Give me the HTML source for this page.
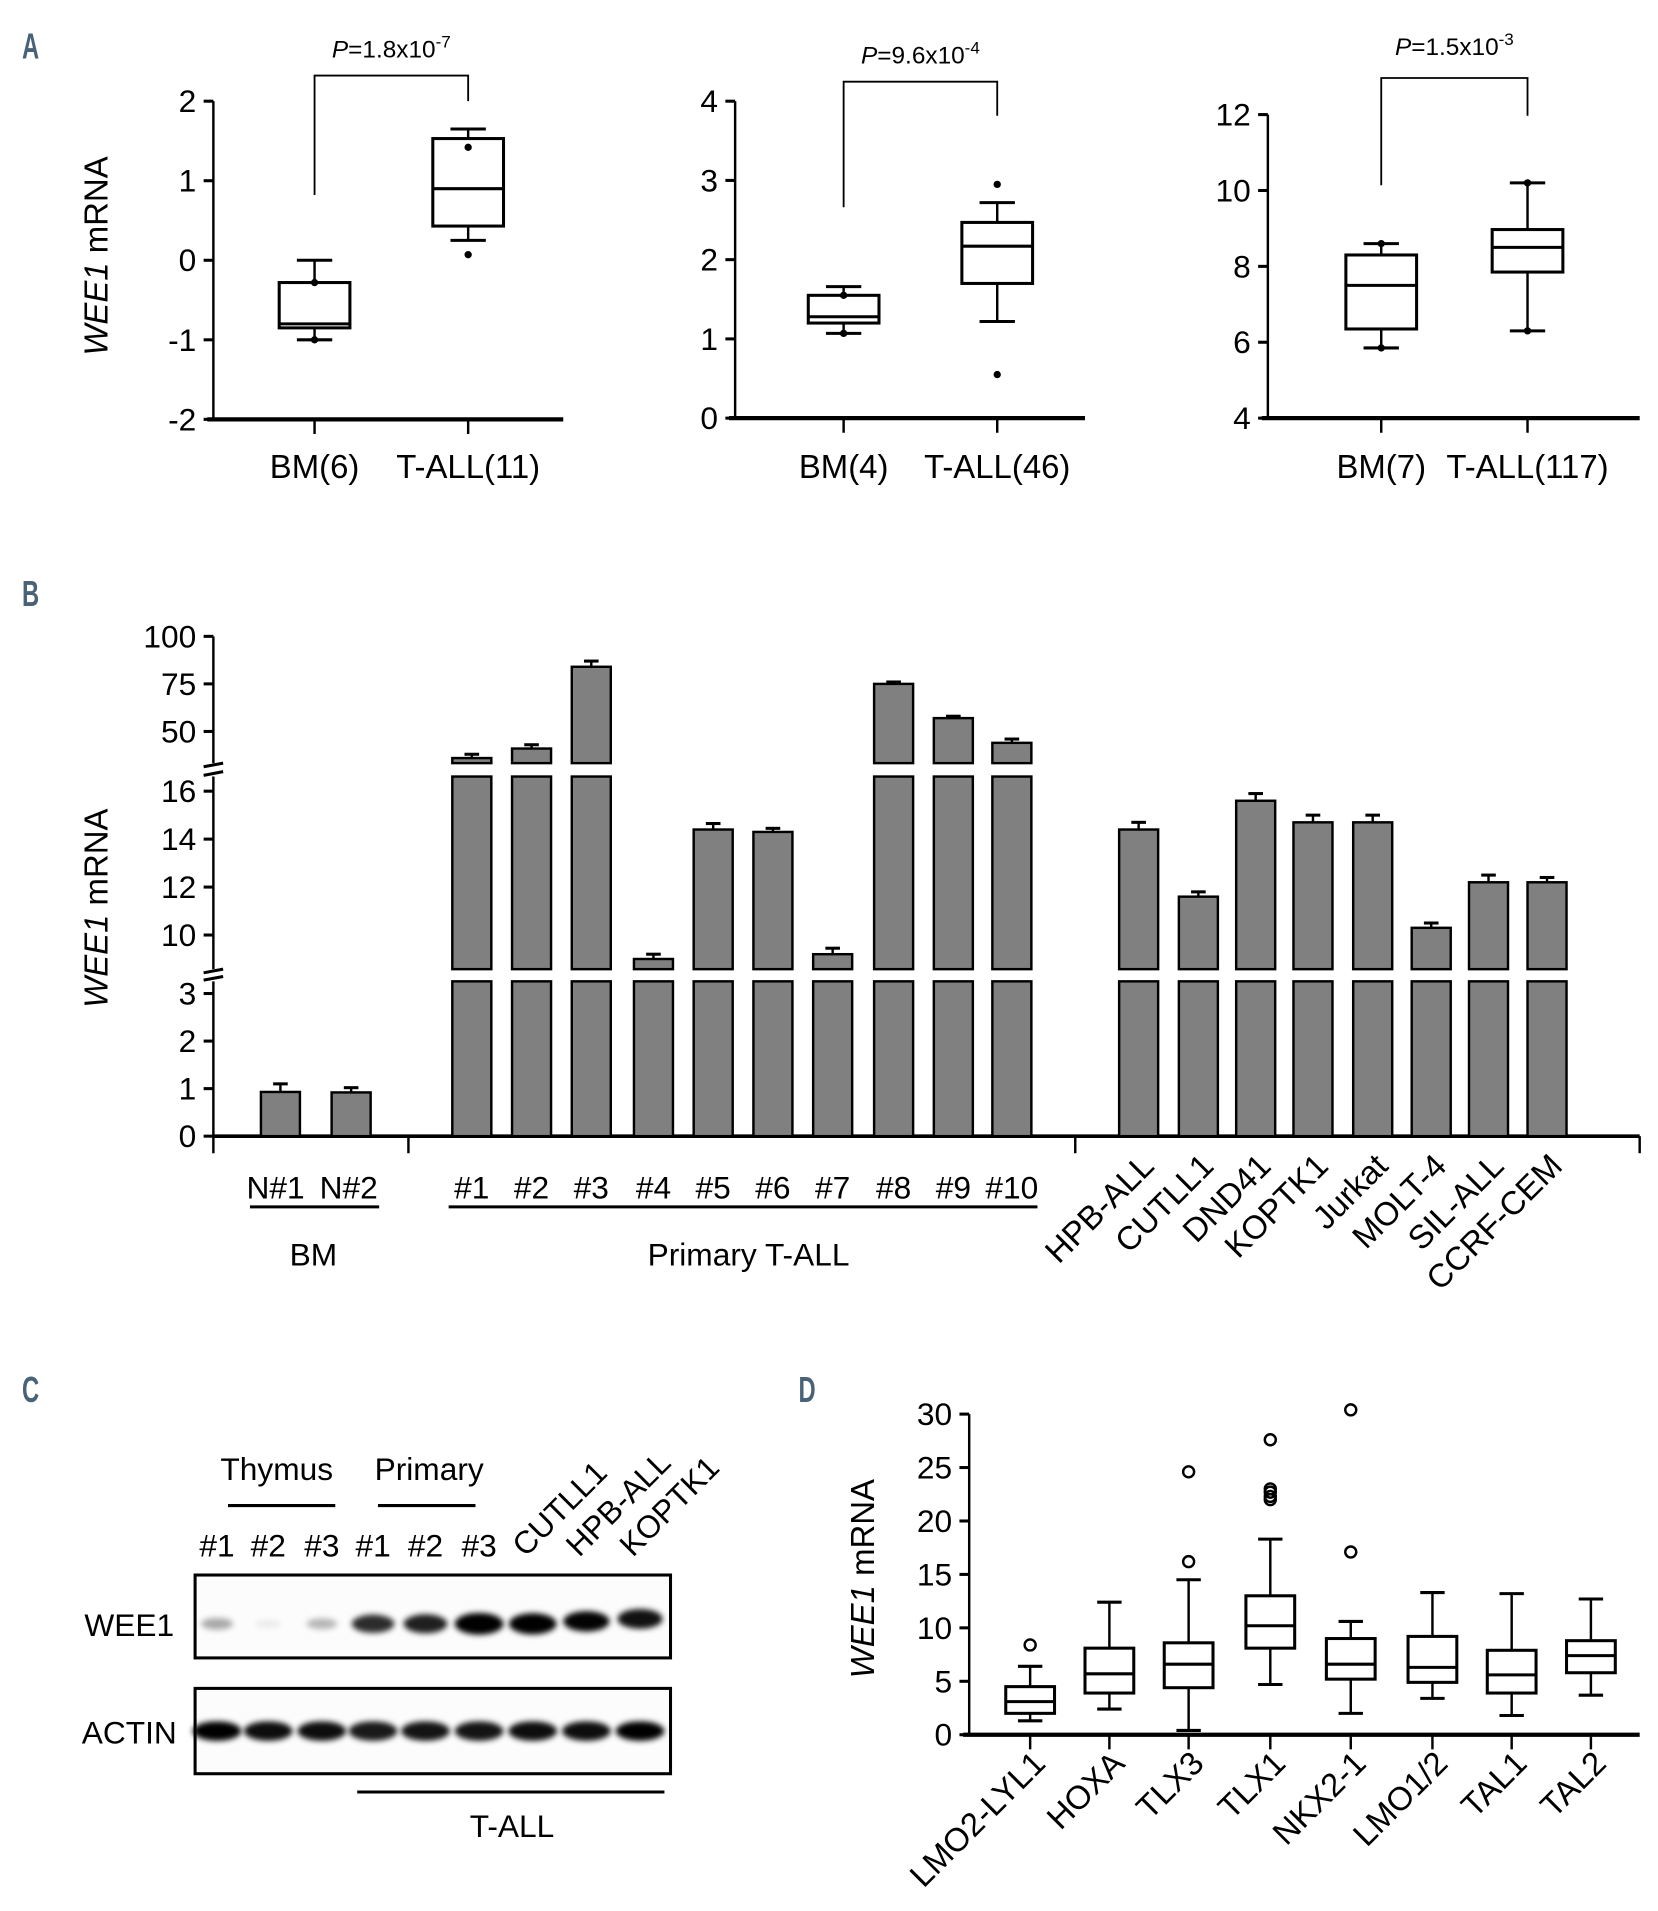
<!DOCTYPE html>
<html><head><meta charset="utf-8"><style>
html,body{margin:0;padding:0;background:#fff;}
svg{display:block;font-family:"Liberation Sans",Arial,sans-serif;}
</style></head><body>
<svg id="fig" width="1658" height="1911" viewBox="0 0 1360 1567.6" xmlns="http://www.w3.org/2000/svg">
<defs><filter id="blur" x="-50%" y="-50%" width="200%" height="200%"><feGaussianBlur stdDeviation="2.5"/></filter></defs>
<g fill="#4a6278" font-weight="bold" font-size="30">
<text x="18" y="48" transform="translate(18 0) scale(0.65,1) translate(-18 0)">A</text>
<text x="18" y="497" transform="translate(18 0) scale(0.65,1) translate(-18 0)">B</text>
<text x="18" y="1150" transform="translate(18 0) scale(0.65,1) translate(-18 0)">C</text>
<text x="655" y="1150" transform="translate(655 0) scale(0.65,1) translate(-655 0)">D</text>
</g>
<g id="gA"></g>
<g id="gB"></g>
<g id="gC"></g>
<g id="gD"></g>
</svg>
<script>
// ---------- Panel A data ----------
const aCats = [["BM(6)","T-ALL(11)"],["BM(4)","T-ALL(46)"],["BM(7)","T-ALL(117)"]];
const aPvals = [["1.8x10","-7"],["9.6x10","-4"],["1.5x10","-3"]];
const aTicks = [[-2,-1,0,1,2],[0,1,2,3,4],[4,6,8,10,12]];
// [wlo,q1,med,q3,whi]
const aBM = [[-1.0,-0.85,-0.8,-0.28,0.0],[1.07,1.2,1.28,1.55,1.66],[5.85,6.35,7.5,8.3,8.6]];
const aTA = [[0.25,0.43,0.9,1.53,1.65],[1.22,1.7,2.17,2.47,2.72],[6.3,7.85,8.5,8.97,10.2]];
const aBMdots = [[-0.28,-1.0],[1.55,1.07],[8.6,5.85]];
const aTAdots = [[1.42,0.07],[2.95,0.55],[10.2,6.3]];
// ---------- Panel B data ----------
const bNames = ["N#1","N#2","#1","#2","#3","#4","#5","#6","#7","#8","#9","#10","HPB-ALL","CUTLL1","DND41","KOPTK1","Jurkat","MOLT-4","SIL-ALL","CCRF-CEM"];
const bVals = [0.93,0.92,36,41,84,9.0,14.4,14.3,9.2,75,57,44,14.4,11.6,15.6,14.7,14.7,10.3,12.2,12.2];
const bErr = [0.17,0.1,2,2,3,0.2,0.25,0.15,0.25,1,1,2,0.3,0.2,0.3,0.3,0.3,0.2,0.3,0.2];
const bTicksLow = [0,1,2,3];
const bTicksMid = [10,12,14,16];
const bTicksHigh = [50,75,100];
// ---------- Panel C data ----------
const cTop = ["#1","#2","#3","#1","#2","#3"];
const cRot = ["CUTLL1","HPB-ALL","KOPTK1"];
const cWee1 = [0.3,0.06,0.25,0.75,0.8,1.0,0.95,0.9,0.85];
const cActin = [1,0.95,0.95,0.9,0.92,0.92,0.95,0.95,1];
// ---------- Panel D data ----------
const dCats = ["LMO2-LYL1","HOXA","TLX3","TLX1","NKX2-1","LMO1/2","TAL1","TAL2"];
const dBox = [[1.3,2,3.1,4.5,6.4],[2.4,3.9,5.7,8.1,12.4],[0.4,4.4,6.6,8.6,14.5],[4.7,8.1,10.2,13,18.3],[2,5.2,6.6,9,10.6],[3.4,4.9,6.3,9.2,13.3],[1.8,3.9,5.6,7.9,13.2],[3.7,5.8,7.4,8.8,12.7]];
const dOut = [[8.4],[],[16.2,24.6],[22,22.3,22.7,23,27.6],[17.1,30.4],[],[],[]];
const dTicks = [0,5,10,15,20,25,30];

const NS="http://www.w3.org/2000/svg";
function mk(parent,tag,attrs,txt){const e=document.createElementNS(NS,tag);for(const k in attrs)e.setAttribute(k,attrs[k]);if(txt!==undefined)e.textContent=txt;parent.appendChild(e);return e;}
function line(p,x1,y1,x2,y2,w){return mk(p,"line",{x1,y1,x2,y2,stroke:"#000","stroke-width":w||2});}

function yTitle(p,x,y,name){
  const t=mk(p,"text",{x,y,"font-size":27,"text-anchor":"middle",transform:`rotate(-90 ${x} ${y})`});
  
  
  mk(t,"tspan",{"font-style":"italic"},"WEE1");mk(t,"tspan",{}," mRNA");
}
function boxplot(p,cx,w,b,sy,name){
  const g=mk(p,"g",{});
  
  
  line(g,cx,sy(b[0]),cx,sy(b[1]),2);line(g,cx,sy(b[3]),cx,sy(b[4]),2);
  line(g,cx-w/4,sy(b[0]),cx+w/4,sy(b[0]),2.5);line(g,cx-w/4,sy(b[4]),cx+w/4,sy(b[4]),2.5);
  mk(g,"rect",{x:cx-w/2,y:sy(b[3]),width:w,height:sy(b[1])-sy(b[3]),fill:"#fff",stroke:"#000","stroke-width":2.5});
  line(g,cx-w/2,sy(b[2]),cx+w/2,sy(b[2]),2.5);
  return g;
}

// ---------- Panel A ----------
(function(){
  const gA=document.getElementById("gA");
  const cfg=[{ax:175,x1:258,x2:384,yTop:83,yBot:344,end:462,brTop:62,brL:160,brR:83,py:47},
             {ax:603,x1:692,x2:818,yTop:83,yBot:343,end:890,brTop:67,brL:170,brR:95,py:52},
             {ax:1040,x1:1133,x2:1253,yTop:94,yBot:343,end:1345,brTop:64,brL:152,brR:95,py:45}];
  cfg.forEach((c,i)=>{
    const g=mk(gA,"g",{});
    
    
    const t=aTicks[i];const lo=t[0],hi=t[t.length-1];
    const sy=v=>c.yBot-(v-lo)/(hi-lo)*(c.yBot-c.yTop);
    line(g,c.ax,c.yTop,c.ax,c.yBot,2);
    line(g,c.ax-5,c.yBot,c.end,c.yBot,3.5);
    t.forEach(v=>{line(g,c.ax-8,sy(v),c.ax,sy(v),2.5);
      const tl=mk(g,"text",{x:c.ax-14,y:sy(v)+9,"font-size":26,"text-anchor":"end"},String(v));
      
      });
    [c.x1,c.x2].forEach((x,j)=>{line(g,x,c.yBot,x,c.yBot+12,2);
      const cl=mk(g,"text",{x:x,y:392,"font-size":27,"text-anchor":"middle"},aCats[i][j]);
      
      });
    boxplot(g,c.x1,58,aBM[i],sy,'box-bm');
    boxplot(g,c.x2,58,aTA[i],sy,'box-t-all');
    aBMdots[i].forEach(v=>{const d=mk(g,"circle",{cx:c.x1,cy:sy(v),r:3});});
    aTAdots[i].forEach(v=>{const d=mk(g,"circle",{cx:c.x2,cy:sy(v),r:3});});
    const br=mk(g,"polyline",{points:`${c.x1},${c.brL} ${c.x1},${c.brTop} ${c.x2},${c.brTop} ${c.x2},${c.brR}`,fill:"none",stroke:"#000","stroke-width":1.5});
    
    
    const pt=mk(g,"text",{x:(c.x1+c.x2)/2,y:c.py,"font-size":20,"text-anchor":"middle"});
    
    
    mk(pt,"tspan",{"font-style":"italic"},"P");mk(pt,"tspan",{},"="+aPvals[i][0]);mk(pt,"tspan",{dy:-8,"font-size":14},aPvals[i][1]);
  });
  yTitle(gA,88,210,'y-axis-title-a');
})();

// ---------- Panel B ----------
(function(){
  const g=document.getElementById("gB");
  const ax=175;
  const segL={v0:0,v1:3,y0:932,y1:815,top:805};
  const segM={v0:10,v1:16,y0:767,y1:649,bot:795,top:637};
  const segH={v0:50,v1:100,y0:600,y1:522,bot:626};
  const syL=v=>segL.y0-(v-segL.v0)/(segL.v1-segL.v0)*(segL.y0-segL.y1);
  const syM=v=>segM.y0-(v-segM.v0)/(segM.v1-segM.v0)*(segM.y0-segM.y1);
  const syH=v=>segH.y0-(v-segH.v0)/(segH.v1-segH.v0)*(segH.y0-segH.y1);
  line(g,ax,segL.y0,ax,segL.top,2);line(g,ax,segM.bot,ax,segM.top,2);line(g,ax,segH.bot,ax,segH.y1,2);
  [[segL.top,segM.bot],[segM.top,segH.bot]].forEach(b=>{line(g,ax-8,b[0]-1,ax+8,b[0]-4,2.5);line(g,ax-8,b[1]+3,ax+8,b[1],2.5);});
  const ticks=(arr,sy)=>arr.forEach(v=>{line(g,ax-8,sy(v),ax,sy(v),2.5);
    const tl=mk(g,"text",{x:ax-14,y:sy(v)+9,"font-size":26,"text-anchor":"end"},String(v));
    
    });
  ticks(bTicksLow,syL);ticks(bTicksMid,syM);ticks(bTicksHigh,syH);
  line(g,ax,932,1345,932,3);
  [175,335,882,1345].forEach(x=>line(g,x,932,x,946,2));
  const xs=[230,288,387,436,485,536,585,634,683,733,782,830,934,983,1030,1077,1126,1174,1221,1269];
  const bw=32;
  bVals.forEach((v,i)=>{
    const x=xs[i];
    const bg=mk(g,"g",{});
    
    
    const R=(y1,y2)=>mk(bg,"rect",{x:x-bw/2,y:y1,width:bw,height:y2-y1,fill:"#808080",stroke:"#000","stroke-width":2});
    let topY,seg;
    if(v<=3.2){topY=syL(v);R(topY,932);seg=syL;}
    else{R(segL.top,932);
      if(v<=16.6){topY=syM(v);R(topY,segM.bot);seg=syM;}
      else{R(segM.top,segM.bot);topY=syH(v);R(topY,segH.bot);seg=syH;}}
    const ey=seg(v+bErr[i]);
    line(bg,x,topY,x,ey,2);line(bg,x-6,ey,x+6,ey,2.5);
  });
  const lab=(x,y,t,name)=>{const e=mk(g,"text",{x,y,"font-size":26,"text-anchor":"middle"},t);return e;};
  for(let i=0;i<12;i++) lab(xs[i]+(i==0?-4:(i==1?-2:0)),983,bNames[i],'x-label');
  line(g,205,990,311,990,2.5);line(g,368,990,851,990,2.5);
  lab(257,1038,"BM",'group-label-bm');lab(614,1038,"Primary T-ALL",'group-label-primary');
  for(let i=12;i<20;i++){
    const x=xs[i]+14,y=958;
    const e=mk(g,"text",{x,y,"font-size":27,"text-anchor":"end",transform:`rotate(-45 ${x} ${y})`},bNames[i]);
    
    
  }
  yTitle(g,88,745,'y-axis-title-b');
})();

// ---------- Panel C ----------
(function(){
  const g=document.getElementById("gC");
  const lanes=[178,220,264,306,349,393,437,481,525];
  const t=(x,y,s,txt,name,extra)=>{const e=mk(g,"text",Object.assign({x,y,"font-size":s,"text-anchor":"middle"},extra||{}),txt);return e;};
  t(227,1214,26,"Thymus",'thymus-label');t(352,1214,26,"Primary",'primary-label');
  line(g,187,1235,275,1235,2.5);line(g,310,1235,390,1235,2.5);
  cTop.forEach((s,i)=>t(lanes[i],1277,26,s,'lane-label'));
  cRot.forEach((s,i)=>{const x=lanes[6+i]-6,y=1278;t(x,y,26,s,'lane-label-cell-line',{"text-anchor":"start",transform:`rotate(-45 ${x} ${y})`});});
  const boxW=mk(g,"rect",{x:160,y:1292,width:390,height:68,fill:"#fcfcfc",stroke:"#000","stroke-width":2.5});
  
  const boxA=mk(g,"rect",{x:160,y:1385,width:390,height:70,fill:"#fcfcfc",stroke:"#000","stroke-width":2.5});
  
  cWee1.forEach((v,i)=>{const e=mk(g,"ellipse",{cx:lanes[i],cy:1332-(i>=6?(i-6)*2:0),rx:10+v*10,ry:3+v*6,fill:"#000","fill-opacity":Math.min(1,v*1.1),filter:"url(#blur)"});});
  cActin.forEach((v,i)=>{const e=mk(g,"ellipse",{cx:lanes[i],cy:1420,rx:20,ry:8,fill:"#000","fill-opacity":v,filter:"url(#blur)"});});
  t(106,1342,26,"WEE1",'wee1-row-label');t(106,1430,26,"ACTIN",'actin-row-label');
  line(g,293,1470,545,1470,2.5);t(420,1507,26,"T-ALL",'t-all-label');
})();

// ---------- Panel D ----------
(function(){
  const g=document.getElementById("gD");
  const ax=795,y0=1423,y30=1160;
  const sy=v=>y0-v/30*(y0-y30);
  line(g,ax,y30,ax,y0,2);line(g,ax-5,y0,1345,y0,3.5);
  dTicks.forEach(v=>{line(g,ax-8,sy(v),ax,sy(v),2.5);
    const tl=mk(g,"text",{x:ax-14,y:sy(v)+9,"font-size":26,"text-anchor":"end"},String(v));
    });
  const xs=[845,910,975,1042,1108,1175,1240,1305];
  dCats.forEach((c,i)=>{
    const x=xs[i];
    line(g,x,y0,x,y0+12,2);
    boxplot(g,x,40,dBox[i],sy,'box-'+c.toLowerCase());
    dOut[i].forEach(v=>{const o=mk(g,"circle",{cx:x,cy:sy(v),r:4.5,fill:"none",stroke:"#000","stroke-width":2});});
    const lx=x+14,ly=1448;
    const e=mk(g,"text",{x:lx,y:ly,"font-size":27,"text-anchor":"end",transform:`rotate(-45 ${lx} ${ly})`},c);
    
  });
  yTitle(g,717,1295,'y-axis-title-d');
})();
</script>
</body></html>
